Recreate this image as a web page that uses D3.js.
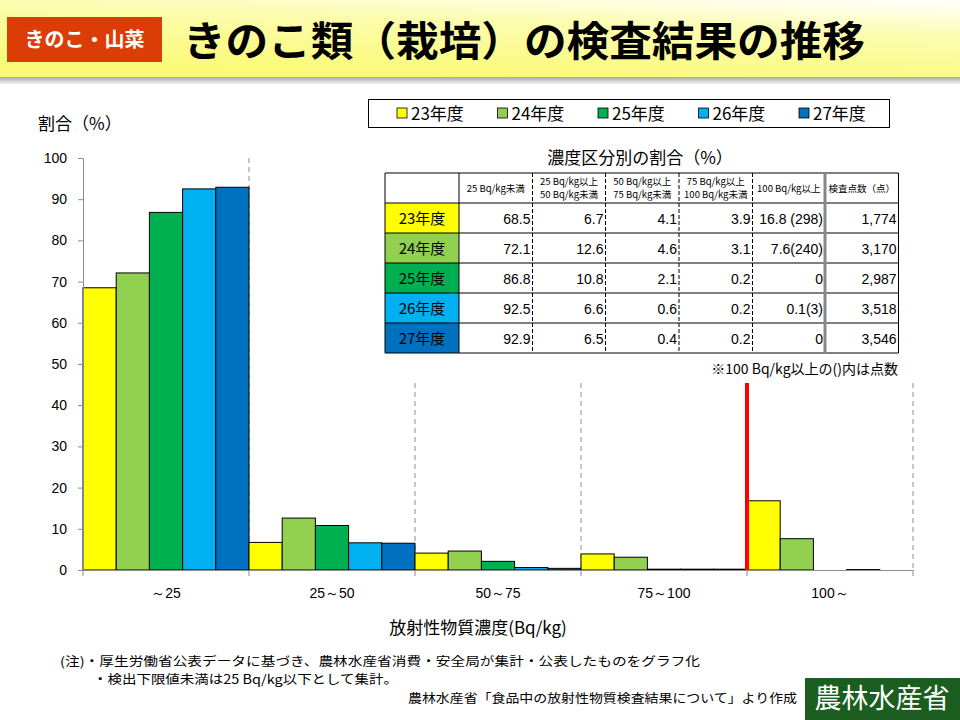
<!DOCTYPE html>
<html><head><meta charset="utf-8">
<script src="https://cdn.jsdelivr.net/npm/d3@7"></script>
<style>
body{margin:0;background:#fff;}
svg{display:block;}
text{font-family:"Noto Sans CJK JP","Liberation Sans",sans-serif;}
</style></head><body>
<svg id="c" width="960" height="720"></svg>
<script>
// ---- data ----
const categories = ["～25", "25～50", "50～75", "75～100", "100～"];
const years = ["23年度", "24年度", "25年度", "26年度", "27年度"];
const y23 = [68.5, 6.7, 4.1, 3.9, 16.8];
const y24 = [72.1, 12.6, 4.6, 3.1, 7.6];
const y25 = [86.8, 10.8, 2.1, 0.2, 0];
const y26 = [92.5, 6.6, 0.6, 0.2, 0.1];
const y27 = [92.9, 6.5, 0.4, 0.2, 0];
const counts100 = ["298", "240", null, "3", null];
const totals = ["1,774", "3,170", "2,987", "3,518", "3,546"];
const yTicks = [0, 10, 20, 30, 40, 50, 60, 70, 80, 90, 100];
const tableHeaders = [["25 Bq/kg未満"], ["25 Bq/kg以上", "50 Bq/kg未満"], ["50 Bq/kg以上", "75 Bq/kg未満"], ["75 Bq/kg以上", "100 Bq/kg未満"], ["100 Bq/kg以上"], ["検査点数（点）"]];
const colors = ["#FFFF00", "#92D050", "#00B050", "#00B0F0", "#0070C0"];

const series = [y23, y24, y25, y26, y27];
const svg = d3.select("#c");

// ---- header ----
const defs = svg.append("defs");
const hg = defs.append("linearGradient").attr("id","hg").attr("x1","0.55").attr("y1","1").attr("x2","1").attr("y2","0");
hg.append("stop").attr("offset","0").attr("stop-color","#FAFA7A");
hg.append("stop").attr("offset","0.6").attr("stop-color","#FCFCB0");
hg.append("stop").attr("offset","1").attr("stop-color","#FFFFFF");
const sg = defs.append("linearGradient").attr("id","sg").attr("x1","0").attr("y1","0").attr("x2","0").attr("y2","1");
sg.append("stop").attr("offset","0").attr("stop-color","#9a9a9a");
sg.append("stop").attr("offset","1").attr("stop-color","#ffffff");
svg.append("rect").attr("x",0).attr("y",76).attr("width",960).attr("height",9).attr("fill","url(#sg)");
svg.append("rect").attr("x",0).attr("y",0).attr("width",960).attr("height",77).attr("fill","url(#hg)");
svg.append("rect").attr("x",7).attr("y",17).attr("width",155).attr("height",45).attr("fill","#DC3C05");
svg.append("text").attr("x",84.5).attr("y",47).attr("text-anchor","middle").attr("fill","#fff")
  .attr("font-size",20).attr("font-weight","bold").text("きのこ・山菜");
svg.append("text").attr("x",183).attr("y",56).attr("fill","#000").attr("font-size",41).attr("font-weight","bold")
  .attr("textLength",682).attr("lengthAdjust","spacingAndGlyphs").text("きのこ類（栽培）の検査結果の推移");

// ---- scales ----
const x0 = d3.scaleBand().domain(categories).range([83, 913]).padding(0);
const x1 = d3.scaleBand().domain(years).range([0, x0.bandwidth()]).padding(0);
const y = d3.scaleLinear().domain([0, 100]).range([570, 158]);

// dashed separators
const sepTop = {1: 158, 2: 383, 3: 383, 5: 383};
[1,2,3,5].forEach(i=>{
  const xx = 83 + i * x0.bandwidth();
  svg.append("line").attr("x1",xx).attr("x2",xx).attr("y1",sepTop[i]).attr("y2",570)
    .attr("stroke","#8c8c8c").attr("stroke-width",1).attr("stroke-dasharray","5,4");
});

// bars
const g = svg.append("g");
categories.forEach((c, ci)=>{
  years.forEach((yr, si)=>{
    const v = series[si][ci];
    g.append("rect").attr("x", x0(c) + x1(yr)).attr("y", y(v))
      .attr("width", x1.bandwidth()).attr("height", y(0) - y(v))
      .attr("fill", colors[si]).attr("stroke","#000").attr("stroke-width",1);
  });
});

// red line
svg.append("line").attr("x1",747).attr("x2",747).attr("y1",383).attr("y2",570)
  .attr("stroke","#FF0000").attr("stroke-width",4);

// y axis
const ya = svg.append("g").attr("transform","translate(83,0)")
  .call(d3.axisLeft(y).tickValues(yTicks).tickSize(5).tickSizeOuter(0));
ya.select(".domain").attr("stroke","#8c8c8c");
ya.selectAll(".tick line").attr("stroke","#8c8c8c");
ya.selectAll(".tick text").attr("font-size",14).attr("fill","#000").attr("x",-16)
  .style("font-family","'Liberation Sans',Arial,sans-serif");

// x axis
const xa = svg.append("g").attr("transform","translate(0,570)")
  .call(d3.axisBottom(x0).tickSize(0).tickSizeOuter(0));
xa.select(".domain").attr("stroke","#8c8c8c");
xa.selectAll(".tick text").attr("font-size",14).attr("fill","#000").attr("dy",0).attr("y",28)
  .style("font-family","'Liberation Sans',Arial,sans-serif");
d3.range(6).forEach(i=>{
  const xx = 83 + i * x0.bandwidth();
  svg.append("line").attr("x1",xx).attr("x2",xx).attr("y1",570).attr("y2",576).attr("stroke","#8c8c8c");
});

svg.append("text").attr("x",38).attr("y",130).attr("font-size",17).text("割合（%）");
svg.append("text").attr("x",478).attr("y",634).attr("text-anchor","middle").attr("font-size",17)
  .text("放射性物質濃度(Bq/kg)");

// legend
svg.append("rect").attr("x",368.5).attr("y",99.5).attr("width",521).attr("height",28)
  .attr("fill","#fff").attr("stroke","#000");
years.forEach((yr,i)=>{
  const lx = 397 + i * 100.5;
  svg.append("rect").attr("x",lx).attr("y",108).attr("width",10).attr("height",10)
    .attr("fill",colors[i]).attr("stroke","#000").attr("stroke-width",0.8);
  svg.append("text").attr("x",lx+14).attr("y",120).attr("font-size",17).text(yr);
});

// table
const tx = [385, 459, 532.5, 605.5, 679, 752.5, 825, 898.5];
const ty = [173, 203, 233, 263, 293, 323, 353];
svg.append("text").attr("x",640).attr("y",164).attr("text-anchor","middle").attr("font-size",17).text("濃度区分別の割合（%）");
const tg = svg.append("g");
tg.append("rect").attr("x",tx[0]).attr("y",ty[0]).attr("width",tx[7]-tx[0]).attr("height",ty[6]-ty[0]).attr("fill","#fff");
years.forEach((yr,i)=>{
  tg.append("rect").attr("x",tx[0]).attr("y",ty[i+1]).attr("width",tx[1]-tx[0]).attr("height",ty[i+2]-ty[i+1]).attr("fill",colors[i]);
  tg.append("text").attr("x",(tx[0]+tx[1])/2).attr("y",(ty[i+1]+ty[i+2])/2+6).attr("text-anchor","middle")
    .attr("font-size",15).text(yr);
  const cells = series[i].map((v,ci)=>{
    if (ci===4) { return (v===0?"0":String(v)) + (counts100[i] ? (i===0?" (":"(") + counts100[i] + ")" : ""); }
    return v.toFixed(1);
  });
  cells.push(totals[i]);
  cells.forEach((t,ci)=>{
    tg.append("text").attr("x",tx[ci+2]-2).attr("y",(ty[i+1]+ty[i+2])/2+6).attr("text-anchor","end")
      .attr("font-size",14).style("font-family","'Liberation Sans',Arial,sans-serif").text(t);
  });
});
tableHeaders.forEach((h,ci)=>{
  const cx = (tx[ci+1]+tx[ci+2])/2;
  if (h.length===1){
    tg.append("text").attr("x",cx).attr("y",192).attr("text-anchor","middle").attr("font-size",9.5).text(h[0]);
  } else {
    tg.append("text").attr("x",cx).attr("y",185).attr("text-anchor","middle").attr("font-size",9.5).text(h[0]);
    tg.append("text").attr("x",cx).attr("y",198).attr("text-anchor","middle").attr("font-size",9.5).text(h[1]);
  }
});
// table lines
ty.forEach(yy=>tg.append("line").attr("x1",tx[0]).attr("x2",tx[7]).attr("y1",yy).attr("y2",yy).attr("stroke","#000"));
[0,1,7].forEach(k=>tg.append("line").attr("x1",tx[k]).attr("x2",tx[k]).attr("y1",ty[0]).attr("y2",ty[6]).attr("stroke","#000"));
[2,3,4,5].forEach(k=>tg.append("line").attr("x1",tx[k]).attr("x2",tx[k]).attr("y1",ty[0]).attr("y2",ty[6])
  .attr("stroke","#000").attr("stroke-dasharray","4,2"));
tg.append("line").attr("x1",tx[6]).attr("x2",tx[6]).attr("y1",ty[0]).attr("y2",ty[6]).attr("stroke","#888").attr("stroke-width",3);
svg.append("text").attr("x",898).attr("y",374).attr("text-anchor","end").attr("font-size",14).text("※100 Bq/kg以上の()内は点数");

// footnotes
svg.append("text").attr("x",60).attr("y",666).attr("font-size",12.5).attr("textLength",640).attr("lengthAdjust","spacingAndGlyphs")
  .text("(注)・厚生労働省公表データに基づき、農林水産省消費・安全局が集計・公表したものをグラフ化");
svg.append("text").attr("x",93).attr("y",684).attr("font-size",12.5).attr("textLength",305).attr("lengthAdjust","spacingAndGlyphs")
  .text("・検出下限値未満は25 Bq/kg以下として集計。");
svg.append("text").attr("x",408).attr("y",703).attr("font-size",12.5).attr("textLength",389).attr("lengthAdjust","spacingAndGlyphs")
  .text("農林水産省「食品中の放射性物質検査結果について」より作成");
svg.append("rect").attr("x",805).attr("y",678).attr("width",155).attr("height",42).attr("fill","#1B5E20");
svg.append("text").attr("x",882).attr("y",708).attr("text-anchor","middle").attr("fill","#fff").attr("font-size",27).text("農林水産省");
</script>
</body></html>
